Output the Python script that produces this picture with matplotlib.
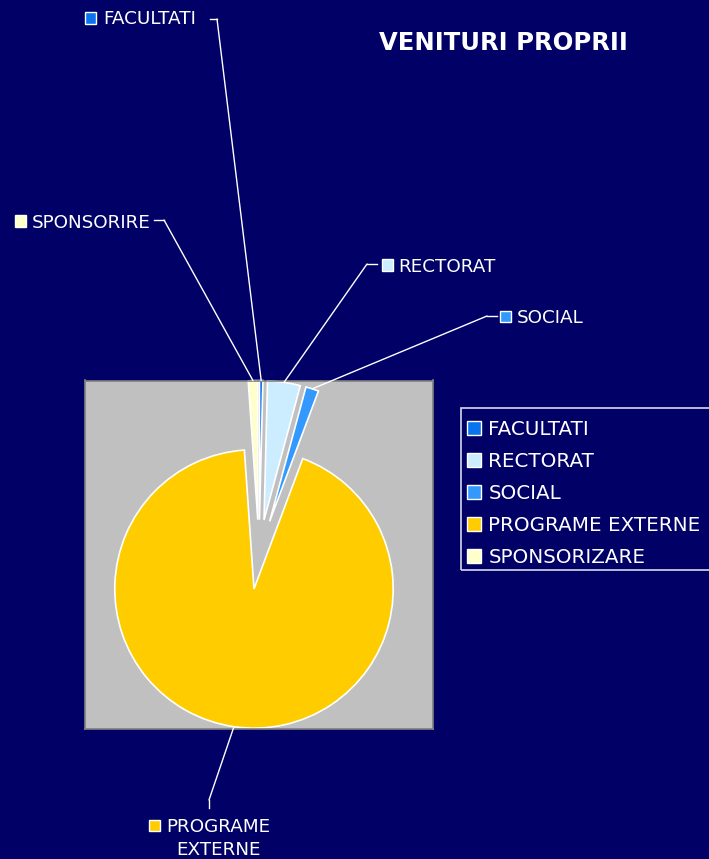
import numpy as np
import matplotlib.pyplot as plt
from matplotlib.patches import Rectangle, Patch

W, H = 709, 859
bg = "#000066"

# data
labels = ["FACULTATI", "RECTORAT", "SOCIAL", "PROGRAME EXTERNE", "SPONSORIZARE"]
values = [0.4, 3.8, 1.5, 93.2, 1.1]
colors = ["#0A74EE", "#CCECFF", "#3399FF", "#FFCC00", "#FFFFCC"]
# data labels as written on the chart (one per line)
slice_labels = [["FACULTATI"], ["RECTORAT"], ["SOCIAL"], ["PROGRAME", "EXTERNE"], ["SPONSORIRE"]]


def fx(x):
    return x / W


def fy(y):
    return 1 - y / H


fig = plt.figure(figsize=(W / 100, H / 100), dpi=100, facecolor=bg)
ax = fig.add_axes([fx(85), fy(729), 348 / W, 349 / H])

wedges, _ = ax.pie(values, colors=colors, startangle=90, counterclock=False,
                   explode=[0.25] * len(values),
                   wedgeprops=dict(edgecolor="white", linewidth=1.2))
ax.set_frame_on(True)
ax.set_facecolor("#C0C0C0")
for s in ax.spines.values():
    s.set_color("#808080")
    s.set_linewidth(1.2)
ax.set_xticks([])
ax.set_yticks([])
ax.set_xlim(-1.25, 1.25)
ax.set_ylim(-1.25, 1.25)

fig.text(fx(503), fy(43), "VENITURI PROPRII", color="white", fontsize=17.5,
         fontweight="bold", ha="center", va="center")

# label layout in pixels from top-left: marker centre, text lines, leader elbow
lab_pos = [
    dict(m=(90.5, 18), t=[(103, 18, "left")], elbow=[(210, 19), (217, 19)]),
    dict(m=(387, 265), t=[(398, 265, "left")], elbow=[(377, 264), (367, 264)]),
    dict(m=(505.5, 316.5), t=[(517, 316.5, "left")], elbow=[(497, 316), (487, 316)]),
    dict(m=(154, 825), t=[(166, 826, "left"), (218, 848.5, "center")],
         elbow=[(209, 808), (209, 800)]),
    dict(m=(20, 221), t=[(32, 221, "left")], elbow=[(154, 220), (164, 220)]),
]

cap = 6.5
for w, lines, c, p in zip(wedges, slice_labels, colors, lab_pos):
    mx, my = p["m"]
    fig.add_artist(Rectangle((fx(mx - 5.5), fy(my + 5.5)), 11 / W, 11 / H,
                             transform=fig.transFigure, facecolor=c,
                             edgecolor="white", linewidth=1))
    for txt, (tx, ty, ha) in zip(lines, p["t"]):
        fig.text(fx(tx), fy(ty + cap), txt, color="white", fontsize=13.2,
                 ha=ha, va="baseline")
    (x1, y1), (x2, y2) = p["elbow"]
    fig.add_artist(plt.Line2D([fx(x1), fx(x2)], [fy(y1), fy(y2)],
                              transform=fig.transFigure, color="white", lw=1))
    mid = np.deg2rad((w.theta1 + w.theta2) / 2)
    ax_pt = (w.center[0] + w.r * np.cos(mid), w.center[1] + w.r * np.sin(mid))
    ax.annotate("", xy=ax_pt, xycoords="data", xytext=(x2, H - y2),
                textcoords="figure pixels", annotation_clip=False,
                arrowprops=dict(arrowstyle="-", color="white", lw=1,
                                shrinkA=0, shrinkB=0))

# legend box (frame drawn separately so rows can sit where they do in the original)
fig.add_artist(Rectangle((fx(461), fy(569.5)), 300 / W, 162 / H,
                         transform=fig.transFigure, facecolor="none",
                         edgecolor="#D8D8E8", linewidth=1.2, zorder=5))
handles = [Patch(facecolor=c, edgecolor="white", linewidth=1, label=l)
           for c, l in zip(colors, labels)]
fig.legend(handles=handles, loc="upper left", bbox_to_anchor=(fx(461), fy(414)),
           borderaxespad=0, frameon=False, fontsize=14.3, labelcolor="white",
           handlelength=0.7, handleheight=0.7, handletextpad=0.38,
           labelspacing=0.66, borderpad=0.3)

fig.savefig("out.png", dpi=100, facecolor=bg)
